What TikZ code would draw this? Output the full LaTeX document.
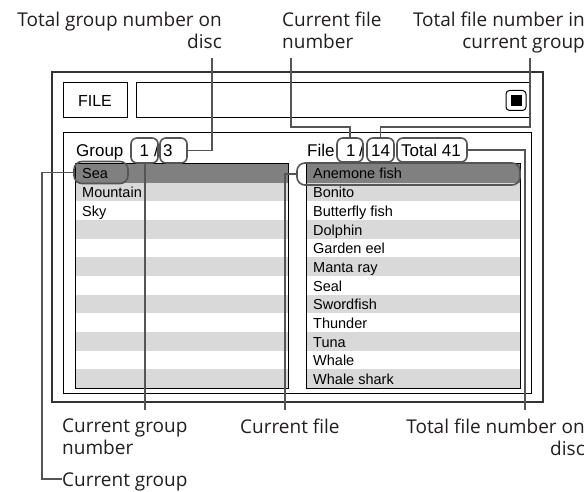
\documentclass[tikz,border=0pt]{standalone}
\usepackage{fontspec}
\setmainfont{Liberation Sans}
\newfontfamily\labfont{Open Sans}
\definecolor{conncol}{HTML}{555555}
\definecolor{selcol}{HTML}{808080}
\definecolor{rowcol}{HTML}{D9D9D9}
\definecolor{labcol}{HTML}{231F20}
\begin{document}
\begin{tikzpicture}[x=1pt,y=-1pt,
  frame/.style={draw=black, line width=1pt},
  outerframe/.style={draw=black!80, line width=1.3pt},
  pill/.style={draw=conncol, line width=1.6pt, rounded corners=6pt, inner sep=0pt},
  conn/.style={draw=conncol, line width=1.6pt},
  lab/.style={font=\labfont\fontsize{19}{22}\selectfont, text=labcol, inner sep=0pt},
  item/.style={font=\fontsize{14.5}{17}\selectfont, anchor=base west, inner sep=0pt},
  head/.style={font=\fontsize{17}{20}\selectfont, anchor=base west, inner sep=0pt}]
\useasboundingbox (0,0) rectangle (587,492);
\fill[white] (0,0) rectangle (587,492);

% frames
\draw[outerframe] (52,72) rectangle (543,402);
\node[frame, minimum width=64pt, minimum height=35pt, inner sep=0pt,
      font=\fontsize{16}{18}\selectfont] (filebtn) at (95,100.5) {FILE};
\node[frame, minimum width=394pt, minimum height=35pt, inner sep=0pt] (bar) at (333,100.5) {};
\node[draw=black, line width=1pt, rounded corners=3.5pt, minimum size=20pt, inner sep=0pt] (stopbtn) at (516,100.5) {};
\node[fill=black, minimum size=11pt, inner sep=0pt] (stopsq) at (stopbtn.center) {};
\draw[frame] (63,133) rectangle (531,393);

% list rows
\foreach \i in {0,...,11}{
  \pgfmathsetmacro{\ya}{164+\i*18.667}
  \pgfmathsetmacro{\yb}{164+(\i+1)*18.667}
  \ifnum\i=0
    \fill[selcol] (75,\ya) rectangle (288,\yb);
    \fill[selcol] (306,\ya) rectangle (520,\yb);
  \else
    \ifodd\i
      \fill[rowcol] (75,\ya) rectangle (288,\yb);
      \fill[rowcol] (306,\ya) rectangle (520,\yb);
    \fi
  \fi
}
\draw[frame] (75,164) rectangle (288,388);
\draw[frame] (306,164) rectangle (520,388);

% left items
\foreach \t [count=\k from 0] in {Sea,Mountain,Sky}{
  \node[item] (litem\k) at (82,179+\k*18.667) {\t};
}
% right items
\foreach \t [count=\k from 0] in {Anemone fish,Bonito,Butterfly fish,Dolphin,Garden eel,Manta ray,Seal,Swordfish,Thunder,Tuna,Whale,Whale shark}{
  \node[item] (ritem\k) at (313,179+\k*18.667) {\t};
}

% header texts
\node[head] (grouptxt) at (76,157) {Group};
\node[head] (gone) at (139.5,157) {1};
\node[head] (gslash) at (154,157) {/};
\node[head] (gthree) at (163,157) {3};
\node[head] (filetxt) at (307,157) {File:};
\node[head] (fone) at (346,157) {1};
\node[head] (fslash) at (359,157) {/};
\node[head] (ffourteen) at (371,157) {14};
\node[head] (ftotal) at (401,157) {Total 41};

% pills
\node[pill, minimum width=27pt, minimum height=25pt] (gp1) at (144.5,150.5) {};
\node[pill, minimum width=27pt, minimum height=25pt] (gp3) at (173.5,150.5) {};
\node[pill, minimum width=26pt, minimum height=24pt] (fp1) at (350,150) {};
\node[pill, minimum width=27pt, minimum height=24pt] (fp14) at (380.5,150) {};
\node[pill, minimum width=70pt, minimum height=24pt] (fptot) at (432,150) {};
\node[pill, minimum width=54pt, minimum height=22pt, rounded corners=8pt] (seapill) at (101,172.5) {};
\node[pill, minimum width=223pt, minimum height=22pt, rounded corners=8pt] (anempill) at (408.5,174) {};

% labels
\node[lab, align=right, anchor=north east] (ltgroup) at (222,12) {Total group number on\\disc};
\node[lab, align=left, anchor=north west] (lcfnum) at (282,12) {Current file\\number};
\node[lab, align=right, anchor=north east] (ltfile) at (585,12) {Total file number in\\current group};
\node[lab, align=left, anchor=north west] (lcgnum) at (62,419) {Current group\\number};
\node[lab, align=left, anchor=north west] (lcfile) at (240,419) {Current file};
\node[lab, align=right, anchor=north east] (ltdisc) at (585,419) {Total file number on\\disc};
\node[lab, anchor=base west] (lcgroup) at (62,486) {Current group};

% connector end points
\coordinate (ctg) at (212,58);
\coordinate (ccf) at (291,58);
\coordinate (ctf) at (530,58);
\coordinate (ccfbend) at (291,127);
\coordinate (ctfbend) at (530,127);
\coordinate (cdisc) at (525,410);
\coordinate (cfile) at (285,410);
\coordinate (cgnum) at (145,410);
\coordinate (cgrp) at (42,479);

% connectors
\draw[conn] (ctg) |- (gp3.east);
\draw[conn] (ccf) -- (ccfbend) -| (fp1.north);
\draw[conn] (ctf) -- (ctfbend) -| (fp14.north);
\draw[conn] (fptot.east) -| (cdisc);
\draw[conn] (anempill.west) -| (cfile);
\draw[conn] (gp1.south -| cgnum) -- (cgnum);
\draw[conn] (seapill.west) -| (cgrp) -- (lcgroup.west |- cgrp);
\end{tikzpicture}
\end{document}
